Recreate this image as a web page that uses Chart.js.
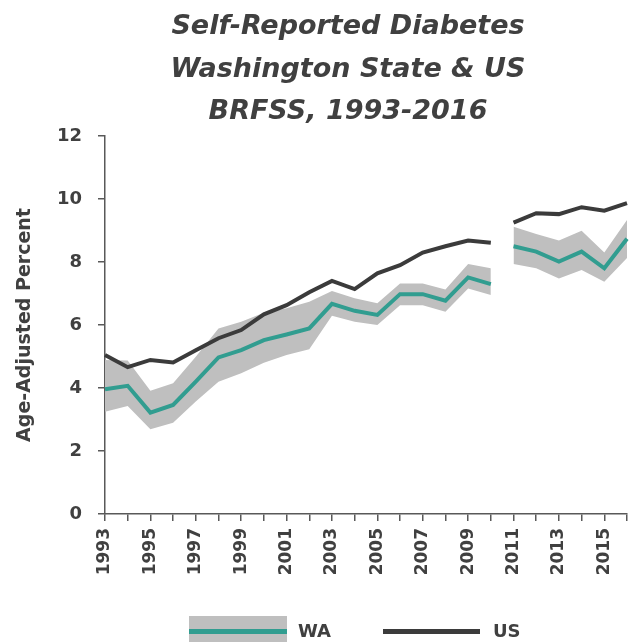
<!DOCTYPE html>
<html lang="en">
<head>
    <meta charset="UTF-8">
    <title>Self-Reported Diabetes - Washington State & US</title>
    <script src="https://cdn.jsdelivr.net/npm/chart.js"></script>
    <style>
        body { margin: 0; background: #fff; }
        #quadro { position: relative; width: 629px; height: 642px; overflow: hidden; }
        #titulo {
            position: absolute; left: 148px; top: 4px; width: 400px;
            text-align: center; white-space: nowrap;
            font: italic bold 27px/42.5px "DejaVu Sans", sans-serif; color: #404040;
        }
        .leg { position: absolute; }
        .leg-texto { font: bold 18px "DejaVu Sans", sans-serif; color: #404040; top: 620px; line-height: 22px; }
    </style>
</head>
<body>
<div id="quadro">
    <canvas id="grafico" width="629" height="642"></canvas>
    <div id="titulo">Self-Reported Diabetes<br>Washington State &amp; US<br>BRFSS, 1993-2016</div>

    <!-- legenda -->
    <div class="leg" style="left:189px; top:616px; width:98px; height:26px; background:#bfbfbf;"></div>
    <div class="leg" style="left:189px; top:629px; width:98px; height:5px; background:#319d90;"></div>
    <div class="leg leg-texto" style="left:298px;">WA</div>
    <div class="leg" style="left:383px; top:629px; width:97px; height:5px; background:#3b3b3b;"></div>
    <div class="leg leg-texto" style="left:493px;">US</div>
</div>

<script>
    const anos = ['1993', '1994', '1995', '1996', '1997', '1998', '1999', '2000', '2001', '2002', '2003', '2004',
                  '2005', '2006', '2007', '2008', '2009', '2010', '2011', '2012', '2013', '2014', '2015', '2016'];
    const anosRotulados = ['1993', '1995', '1997', '1999', '2001', '2003', '2005', '2007', '2009', '2011', '2013', '2015'];

    const usValores = [5.05, 4.66, 4.89, 4.81, 5.2, 5.58, 5.84, 6.34, 6.63, 7.04, 7.4, 7.14,
                       7.64, 7.9, 8.3, 8.5, 8.68, 8.61, 9.25, 9.55, 9.52, 9.74, 9.63, 9.87];
    const waValores = [3.96, 4.07, 3.22, 3.46, 4.2, 4.97, 5.2, 5.52, 5.7, 5.89, 6.67, 6.45,
                       6.32, 6.98, 6.98, 6.77, 7.51, 7.3, 8.5, 8.33, 8.01, 8.33, 7.8, 8.74];
    const waSuperior = [4.89, 4.87, 3.91, 4.15, 4.99, 5.89, 6.1, 6.39, 6.53, 6.74, 7.08, 6.85,
                        6.69, 7.32, 7.32, 7.13, 7.94, 7.8, 9.12, 8.89, 8.68, 8.99, 8.3, 9.33];
    const waInferior = [3.25, 3.43, 2.69, 2.9, 3.57, 4.2, 4.47, 4.8, 5.05, 5.23, 6.29, 6.1,
                        6.0, 6.63, 6.63, 6.42, 7.16, 6.95, 7.94, 7.8, 7.48, 7.75, 7.37, 8.13];

    // quebra da serie entre 2010 e 2011 (mudanca de metodologia do BRFSS)
    const quebra = anos.indexOf('2010');
    const invisivel = 'rgba(0,0,0,0)';

    const corTexto = '#404040';
    const corEixo = '#595959';

    Chart.defaults.font.family = '"DejaVu Sans", sans-serif';
    Chart.defaults.color = corTexto;

    new Chart(document.getElementById('grafico'), {
        type: 'line',
        data: {
            labels: anos,
            datasets: [
                {
                    label: 'US',
                    data: usValores,
                    borderColor: '#3b3b3b',
                    borderWidth: 4,
                    pointRadius: 0,
                    fill: false,
                    order: 0,
                    segment: { borderColor: ctx => ctx.p0DataIndex === quebra ? invisivel : undefined }
                },
                {
                    label: 'WA',
                    data: waValores,
                    borderColor: '#319d90',
                    borderWidth: 4,
                    pointRadius: 0,
                    fill: false,
                    order: 1,
                    segment: { borderColor: ctx => ctx.p0DataIndex === quebra ? invisivel : undefined }
                },
                {
                    label: 'WA IC superior',
                    data: waSuperior,
                    borderWidth: 0,
                    borderColor: invisivel,
                    backgroundColor: '#bfbfbf',
                    pointRadius: 0,
                    fill: '+1',
                    order: 2,
                    segment: { backgroundColor: ctx => ctx.p0DataIndex === quebra ? invisivel : undefined }
                },
                {
                    label: 'WA IC inferior',
                    data: waInferior,
                    borderWidth: 0,
                    borderColor: invisivel,
                    pointRadius: 0,
                    fill: false,
                    order: 3
                }
            ]
        },
        options: {
            responsive: false,
            animation: false,
            devicePixelRatio: 1,
            layout: { padding: { top: 136, left: 4, right: 2, bottom: 67 } },
            plugins: {
                legend: { display: false },
                tooltip: { enabled: false }
            },
            scales: {
                x: {
                    type: 'category',
                    offset: false,
                    border: { color: corEixo, width: 1.5 },
                    grid: { drawOnChartArea: false, drawTicks: true, tickLength: 7, color: corEixo, lineWidth: 1.5 },
                    ticks: {
                        autoSkip: false,
                        minRotation: 90,
                        maxRotation: 90,
                        padding: 7,
                        font: { size: 17, weight: 'bold' },
                        color: corTexto,
                        callback: function (v) {
                            const a = this.getLabelForValue(v);
                            return anosRotulados.includes(a) ? a : '';
                        }
                    },
                    // sem folga extra nas pontas: 1993 e 2016 ficam nas bordas
                    afterFit: s => { s.paddingLeft = 0; s.paddingRight = 0; s.height = 61; }
                },
                y: {
                    min: 0,
                    max: 12,
                    border: { color: corEixo, width: 1.5 },
                    grid: { drawOnChartArea: false, drawTicks: true, tickLength: 7, color: corEixo, lineWidth: 1.5 },
                    ticks: { stepSize: 2, padding: 16, font: { size: 18, weight: 'bold' }, color: corTexto },
                    title: {
                        display: true,
                        text: 'Age-Adjusted Percent',
                        font: { size: 19, weight: 'bold' },
                        color: corTexto,
                        padding: { top: 10, bottom: 20 }
                    },
                    afterFit: s => { s.width = 101; }
                }
            }
        }
    });
</script>
</body>
</html>
